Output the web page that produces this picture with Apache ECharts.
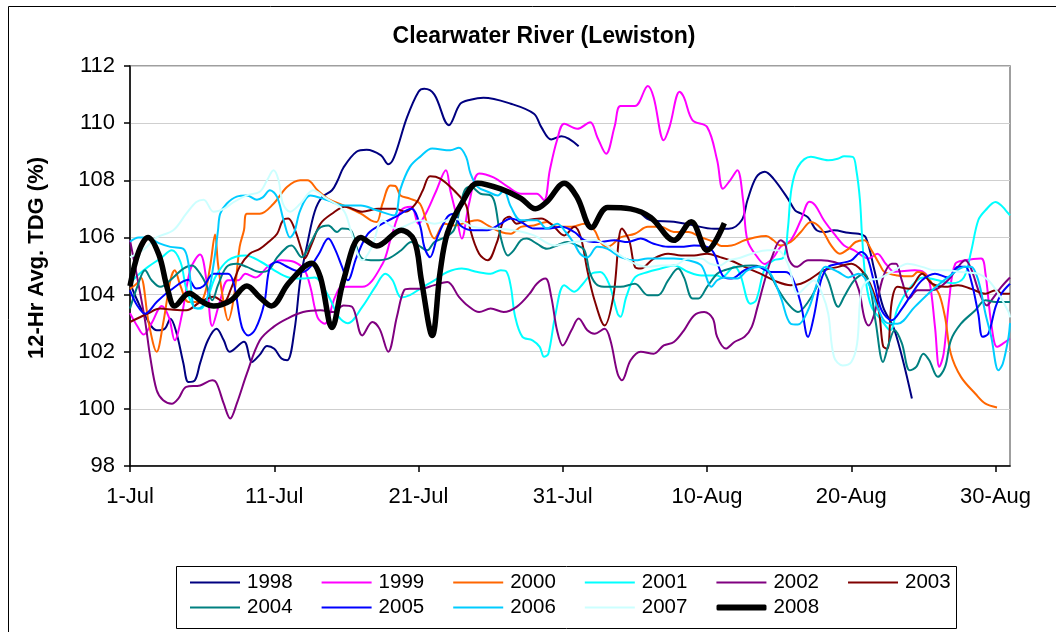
<!DOCTYPE html>
<html>
<head>
<meta charset="utf-8">
<script src="https://cdn.jsdelivr.net/npm/echarts@6/dist/echarts.min.js"></script>
<style>
html,body{margin:0;padding:0;background:#fff;}
#chart{width:1056px;height:632px;}
</style>
</head>
<body>
<div id="chart"></div>
<script>
// ---- Data (day offset from 1-Jul, 12-Hr Avg. TDG %) ----
const years = ['1998','1999','2000','2001','2002','2003','2004','2005','2006','2007','2008'];
const xTickDays = [0,10,20,30,40,50,60];
const xTickLabels = ['1-Jul','11-Jul','21-Jul','31-Jul','10-Aug','20-Aug','30-Aug'];
const yTicks = [98,100,102,104,106,108,110,112];

const s1998 = [[0,104.4],[0.5,103.8],[1.0,103.3],[1.85,102.75],[2.4,102.8],[2.8,103.15],[3.2,102.7],[3.7,101.6],[4.05,100.94],[4.5,101.0],[4.86,101.6],[5.4,102.4],[6.0,102.8],[6.5,102.4],[6.9,102.0],[7.9,102.35],[8.45,101.64],[9.0,101.9],[9.5,102.2],[10.0,102.1],[10.5,101.76],[10.9,101.7],[11.4,102.75],[11.8,104.5],[12.3,105.8],[12.8,106.9],[13.3,107.4],[14.0,107.65],[14.4,108.0],[14.8,108.45],[15.7,109.0],[16.4,109.07],[17.4,108.87],[17.9,108.56],[18.3,108.8],[19.2,110.2],[20.0,111.1],[20.4,111.2],[21.1,111.0],[22.1,109.93],[22.9,110.68],[23.6,110.82],[24.5,110.89],[26.4,110.68],[28.0,110.33],[28.5,109.87],[29.2,109.43],[29.9,109.54],[31.1,109.19],[33,null],[35.5,106.8],[36.1,106.6],[37.7,106.55],[38.8,106.45],[40.5,106.3],[41.5,106.3],[42.4,106.6],[42.8,107.3],[43.4,108.1],[44.0,108.3],[44.6,108.06],[45.6,107.36],[46.1,106.95],[46.5,106.84],[47.0,106.7],[47.6,106.25],[48.2,106.19],[48.8,106.25],[49.8,106.16],[50.5,106.13],[51.0,106.0],[51.6,104.85],[52.2,103.57],[53.0,102.75],[54.2,100.36]];

const s1999 = [[0,103.35],[0.5,102.9],[0.95,102.6],[1.5,103.0],[2.2,103.6],[2.7,103.2],[3.1,102.4],[3.6,103.3],[4.2,104.9],[4.86,105.4],[5.3,104.5],[5.7,102.9],[6.2,103.7],[6.8,104.5],[7.5,104.5],[8.0,104.73],[8.7,104.6],[9.6,105.0],[10.5,105.2],[11.4,105.14],[12.1,104.85],[12.5,104.27],[13.0,103.2],[13.5,102.98],[14.2,103.9],[14.7,104.27],[16.1,104.27],[17.5,105.07],[18.1,106.0],[18.8,106.95],[19.5,107.07],[20.0,106.48],[20.5,106.83],[21.2,107.6],[21.9,108.35],[22.2,107.65],[22.6,106.83],[23.0,105.96],[23.5,107.18],[24.2,108.24],[25.2,108.1],[26.2,107.77],[27.1,107.53],[28.2,107.53],[28.7,107.3],[29.1,108.35],[29.6,109.4],[30.1,109.98],[31.0,109.8],[31.9,110.03],[32.4,109.5],[33.0,108.93],[33.6,109.9],[34.0,110.6],[35.0,110.6],[35.9,111.3],[36.3,110.9],[37.0,109.4],[37.4,109.87],[38.1,111.1],[38.4,110.9],[39.0,110.1],[40.0,109.87],[40.7,108.7],[41.1,107.7],[41.6,108.0],[42.1,108.35],[42.5,107.3],[42.8,105.9],[43.5,105.3],[44.0,105.07],[44.6,105.3],[45.1,105.67],[45.8,105.9],[46.5,106.6],[47.1,107.25],[47.5,107.12],[48.1,106.6],[48.8,106.13],[49.5,105.72],[50.2,105.55],[51.2,105.26],[51.8,105.43],[52.4,105.07],[53.0,104.8],[54.4,104.85],[55.0,104.79],[55.4,104.5],[55.8,102.87],[56.1,101.47],[56.4,101.93],[56.8,103.9],[57.2,105.07],[57.9,105.2],[59.0,105.26],[59.3,104.73],[59.7,102.98],[60.1,102.17],[60.5,102.28],[61.0,102.46]];

const s2000 = [[0,104.2],[0.5,104.4],[0.75,104.6],[1.3,103.0],[1.85,102.0],[2.3,103.0],[2.8,104.5],[3.1,104.85],[3.5,104.3],[4.05,103.74],[4.6,103.74],[5.1,103.9],[5.55,104.97],[5.9,106.1],[6.1,105.07],[6.5,103.7],[6.8,103.1],[7.2,103.9],[7.6,105.67],[7.9,106.25],[8.1,106.83],[9.0,106.83],[9.95,107.18],[10.9,107.77],[11.8,108.0],[12.3,108.0],[13.0,107.65],[13.7,107.36],[14.8,107.12],[16.0,106.83],[16.7,106.6],[17.1,106.54],[17.5,107.18],[18.05,107.82],[18.4,107.8],[18.75,107.47],[19.4,107.36],[20.1,107.18],[20.6,106.48],[21.1,105.96],[21.8,106.48],[22.5,106.42],[23.4,106.54],[24.1,106.6],[24.8,106.42],[25.7,106.19],[26.4,106.13],[27.1,106.37],[28.0,106.42],[28.9,106.54],[29.6,106.37],[30.6,106.37],[31.5,106.48],[32.2,106.25],[32.6,105.84],[33.1,105.67],[33.5,105.78],[34.0,106.0],[35.0,106.13],[35.9,106.37],[36.8,106.37],[37.7,106.19],[38.7,106.19],[39.6,106.0],[40.5,105.84],[41.0,105.7],[41.7,105.72],[42.6,105.9],[43.3,106.0],[44.1,106.05],[44.6,105.9],[45.1,105.72],[45.8,105.84],[46.5,106.19],[47.2,106.54],[47.9,106.31],[48.6,105.72],[49.2,105.43],[49.8,105.6],[50.3,105.84],[50.9,105.9],[51.4,105.55],[52.0,105.02],[52.3,104.79],[53.2,104.67],[54.2,104.64],[54.6,104.79],[55.1,104.73],[55.6,104.38],[56.1,104.0],[56.5,103.2],[56.9,101.93],[57.6,101.12],[58.6,100.53],[59.3,100.18],[60.1,100.05]];

const s2001 = [[0,104.4],[0.6,104.7],[1.25,104.97],[2.1,105.26],[2.9,105.55],[3.5,105.14],[3.9,104.2],[4.4,103.6],[4.9,103.5],[5.4,103.9],[5.9,104.6],[6.8,105.2],[8.0,105.37],[9.1,105.14],[10.0,104.85],[11.0,104.6],[11.9,104.56],[12.8,104.6],[13.7,104.0],[14.5,103.2],[15.1,103.0],[16.1,103.57],[17.0,104.27],[17.7,104.73],[18.2,104.5],[18.8,103.9],[19.4,103.98],[20.1,104.2],[21.1,104.5],[22.0,104.79],[23.0,104.91],[24.1,104.79],[25.0,104.73],[25.7,104.85],[26.1,104.8],[26.4,104.27],[26.7,103.22],[27.2,102.52],[27.9,102.4],[28.4,102.17],[28.7,101.82],[29.0,101.93],[29.5,103.33],[30.1,104.33],[30.8,104.1],[31.4,104.38],[32.0,104.73],[32.6,104.79],[33.2,104.38],[33.8,103.33],[34.0,103.22],[34.4,103.92],[35.0,104.6],[35.9,104.79],[36.8,104.91],[37.7,105.02],[38.7,104.79],[39.6,104.67],[40.7,104.67],[41.0,104.6],[41.9,104.97],[42.3,104.7],[43.0,103.68],[43.4,103.8],[44.0,104.91],[44.6,105.2],[45.3,105.3],[45.6,106.3],[45.85,107.7],[46.3,108.47],[47.2,108.82],[48.4,108.7],[49.1,108.76],[49.5,108.84],[50.1,108.82],[50.35,108.35],[50.6,107.3],[50.75,106.0],[51.0,104.5],[51.4,103.57],[52.1,103.1],[52.7,102.75],[53.2,103.51],[54.0,104.2],[55.0,104.6],[56.0,104.5],[57.0,104.4],[57.8,104.6],[58.3,105.5],[58.8,106.6],[59.3,106.95],[60.0,107.24],[60.4,107.12],[60.7,106.95],[61.0,106.77]];

const s2002 = [[0,105.9],[0.5,104.6],[1.04,103.1],[1.4,101.82],[1.85,100.65],[2.3,100.3],[2.9,100.18],[3.35,100.36],[3.9,100.77],[4.86,100.82],[5.7,101.0],[6.0,100.9],[6.5,100.18],[6.95,99.66],[7.4,100.18],[8.1,101.23],[9.0,102.4],[9.95,102.87],[10.9,103.16],[12.0,103.39],[13.2,103.45],[14.1,103.39],[14.8,103.62],[15.4,103.57],[16.1,102.57],[16.8,103.04],[17.3,102.8],[17.9,102.0],[18.5,103.22],[19.0,104.15],[19.4,104.2],[20.1,104.2],[21.1,104.33],[22.0,104.44],[22.8,103.92],[23.4,103.62],[24.2,103.39],[25.0,103.51],[25.9,103.39],[26.8,103.57],[27.7,104.03],[28.2,104.38],[28.8,104.56],[29.2,103.92],[29.6,102.75],[30.0,102.22],[30.6,102.75],[31.1,103.16],[31.7,102.75],[32.2,102.63],[32.9,102.8],[33.3,102.4],[33.8,101.23],[34.1,101.0],[34.7,101.7],[35.4,102.0],[36.3,101.93],[37.0,102.22],[37.7,102.34],[38.4,102.75],[39.1,103.27],[39.8,103.39],[40.4,103.16],[40.7,102.52],[41.3,102.11],[41.9,102.34],[42.6,102.52],[43.1,102.87],[43.5,103.57],[44.0,104.5],[44.5,105.31],[45.1,105.9],[45.4,105.78],[45.7,105.2],[46.2,104.97],[47.0,105.2],[47.9,105.2],[48.8,105.14],[49.8,104.91],[50.5,104.2],[50.9,103.2],[51.2,102.92],[51.6,103.33],[52.2,104.6],[52.8,105.08],[53.1,105.08],[53.5,104.5],[54.0,103.86],[54.6,104.15],[55.6,104.15],[56.7,104.5],[57.4,104.97],[57.9,105.2],[58.3,104.91],[58.9,104.03],[59.4,103.62],[59.8,103.86],[60.4,104.27],[61.0,104.6]];

const s2003 = [[0,103.04],[1.2,103.33],[2.1,103.51],[3.0,103.47],[3.9,103.45],[4.86,103.74],[5.8,103.92],[6.5,103.74],[7.0,104.2],[7.6,104.97],[8.3,105.43],[9.0,105.6],[9.6,105.84],[10.2,106.13],[10.6,106.6],[10.97,106.66],[11.4,106.31],[11.9,105.55],[12.1,105.26],[12.6,105.78],[13.2,106.48],[14.0,106.83],[14.9,107.07],[16.1,106.9],[17.2,107.0],[18.4,107.0],[19.1,106.9],[19.8,107.18],[20.3,107.65],[20.8,108.14],[21.5,108.06],[22.45,107.65],[23.3,107.12],[23.6,106.25],[24.2,105.43],[24.8,105.2],[25.4,105.78],[25.9,106.6],[26.3,106.72],[26.8,106.48],[27.5,106.6],[28.5,106.66],[29.3,106.42],[30.1,106.07],[30.8,106.37],[31.25,106.0],[31.7,104.85],[32.2,103.8],[32.9,102.92],[33.5,103.92],[34.1,106.31],[34.6,105.9],[35.0,104.97],[35.4,104.91],[36.3,105.26],[37.3,105.43],[38.2,105.37],[39.1,105.37],[40.0,105.43],[40.9,105.31],[41.6,105.2],[42.6,104.97],[43.7,104.73],[44.9,104.44],[45.8,104.33],[46.5,104.38],[47.2,104.56],[48.1,104.85],[49.1,104.97],[50.0,105.08],[50.7,104.85],[51.3,104.38],[51.9,103.45],[52.2,102.2],[52.5,102.1],[52.8,103.74],[53.2,104.27],[54.0,104.2],[54.9,104.73],[55.6,104.38],[56.5,104.27],[57.4,104.33],[58.3,104.2],[59.3,104.03],[60.0,104.15],[60.5,104.03],[61.0,104.03]];

const s2004 = [[0,103.51],[0.5,104.27],[1.04,104.85],[1.5,104.5],[2.1,104.27],[3.0,104.6],[3.7,104.91],[4.3,105.02],[4.86,104.73],[5.3,104.33],[5.7,103.8],[6.1,104.33],[6.7,104.97],[7.4,105.08],[8.1,104.97],[9.0,104.79],[9.6,104.85],[10.2,105.3],[10.9,105.67],[11.2,105.72],[11.9,105.31],[12.5,105.78],[13.1,106.31],[13.75,106.42],[14.35,106.19],[14.7,106.31],[15.3,106.25],[15.7,105.67],[16.1,105.26],[17.0,105.2],[17.9,105.26],[18.8,105.55],[19.5,105.84],[20.0,105.72],[20.6,105.55],[21.1,105.84],[21.8,106.0],[22.45,106.25],[22.9,107.07],[23.2,107.65],[23.6,107.77],[24.3,107.53],[25.0,107.47],[25.3,107.18],[25.7,106.0],[26.2,105.37],[26.6,105.55],[27.1,105.9],[27.5,105.96],[28.2,105.78],[28.9,105.6],[29.6,105.72],[30.3,105.84],[31.0,105.72],[31.5,105.55],[31.9,104.73],[32.4,104.33],[33.1,104.27],[34.0,104.27],[35.0,104.38],[35.9,103.98],[36.6,103.98],[37.3,104.5],[38.0,104.91],[38.4,104.6],[39.0,103.86],[39.4,103.86],[40.0,104.27],[40.7,104.73],[41.2,104.85],[42.1,104.97],[43.1,105.02],[43.75,104.97],[44.2,104.85],[44.9,104.2],[45.6,103.68],[46.3,103.39],[47.0,103.74],[47.6,104.27],[48.0,104.85],[48.4,104.5],[49.1,103.57],[49.5,103.92],[50.2,104.5],[50.9,104.73],[51.3,104.27],[51.7,103.0],[52.2,101.64],[52.6,102.28],[53.0,102.75],[53.5,102.3],[54.05,101.35],[54.5,101.47],[55.0,101.93],[55.4,101.7],[56.0,101.12],[56.5,101.47],[56.9,102.4],[57.6,102.98],[58.6,103.45],[59.3,103.8],[60.0,103.74],[61.0,103.74]];

const s2005 = [[0,104.15],[0.5,103.62],[1.04,103.33],[1.85,103.74],[2.8,104.15],[4.05,104.52],[4.6,104.21],[5.1,104.3],[5.8,104.73],[6.8,104.73],[7.2,104.38],[7.75,102.87],[8.2,102.57],[8.7,102.8],[9.3,103.68],[9.7,104.97],[10.2,105.14],[10.8,105.0],[11.4,104.85],[12.0,104.79],[12.5,104.97],[13.1,105.43],[13.75,105.96],[14.2,105.6],[14.7,104.97],[15.1,104.5],[15.7,105.3],[16.5,106.13],[17.5,106.48],[18.4,106.72],[19.5,107.0],[20.1,106.42],[20.4,105.67],[20.8,105.31],[21.3,106.0],[22.0,106.72],[22.45,106.83],[22.9,106.42],[23.8,106.25],[24.75,106.25],[25.7,106.48],[26.4,106.66],[27.1,106.54],[28.0,106.31],[28.9,106.31],[29.9,106.37],[30.8,106.19],[31.5,105.9],[32.4,105.84],[33.6,105.9],[34.5,105.84],[35.4,105.96],[36.3,105.78],[37.3,105.67],[38.2,105.67],[39.1,105.72],[40.0,105.67],[40.5,105.43],[40.9,104.85],[41.2,104.6],[41.7,104.56],[42.6,104.85],[43.5,104.97],[44.4,104.79],[45.4,104.79],[45.9,104.6],[46.5,103.68],[47.0,102.52],[47.4,103.22],[47.9,104.5],[48.4,104.97],[49.1,105.08],[50.0,105.2],[50.7,105.49],[51.1,105.31],[51.6,104.38],[52.1,103.45],[52.8,103.1],[53.5,103.5],[54.2,104.03],[54.9,104.5],[55.8,104.73],[56.7,104.6],[57.4,104.97],[57.9,104.97],[58.3,104.5],[58.8,103.33],[59.1,102.52],[59.5,102.63],[60.0,103.57],[60.4,104.03],[61.0,104.38]];

const s2006 = [[0,105.85],[0.6,106.0],[1.2,106.0],[2.0,105.8],[2.8,105.67],[3.7,105.6],[4.05,105.08],[4.4,103.57],[4.7,103.51],[5.3,103.8],[5.8,105.08],[6.1,106.25],[6.25,106.83],[6.7,107.18],[7.4,107.43],[8.1,107.47],[8.8,107.32],[9.2,107.4],[9.7,107.65],[10.2,107.41],[10.65,106.6],[11.1,106.0],[11.4,106.2],[11.8,106.95],[12.5,107.47],[13.7,107.3],[14.8,107.12],[16.0,107.12],[17.1,106.95],[18.3,106.77],[18.75,107.7],[19.4,108.47],[20.1,108.82],[20.95,109.11],[22.2,109.05],[22.8,109.14],[23.3,108.82],[23.6,108.24],[24.1,107.77],[24.8,107.6],[25.5,107.47],[25.9,107.65],[26.4,107.07],[27.1,106.6],[28.2,106.6],[28.9,106.31],[29.6,106.48],[30.2,106.19],[30.8,105.78],[31.2,105.43],[31.7,105.3],[32.4,105.67],[33.1,105.6],[34.0,105.31],[35.0,105.2],[35.9,105.26],[36.8,105.26],[37.7,105.26],[38.7,105.2],[39.6,105.02],[40.3,104.27],[40.7,104.5],[41.2,104.6],[42.1,104.56],[42.8,104.85],[43.7,104.97],[44.4,104.73],[45.1,103.92],[45.8,102.98],[46.3,102.95],[47.0,103.45],[47.7,104.5],[48.2,104.97],[49.1,104.79],[49.8,104.6],[50.5,104.73],[51.2,104.38],[51.8,103.57],[52.5,103.0],[53.2,102.98],[54.4,103.57],[55.6,104.15],[56.7,104.6],[57.9,104.97],[58.3,104.97],[58.8,104.5],[59.3,103.33],[59.7,102.52],[60.2,101.35],[60.5,101.58],[60.9,102.52],[61.0,103.0]];

const s2007 = [[0,105.3],[1.0,105.6],[1.85,106.0],[3.0,106.25],[3.9,106.83],[4.6,107.24],[5.1,107.32],[5.8,106.9],[6.5,107.0],[7.2,107.24],[8.1,107.47],[9.0,107.6],[9.5,108.0],[9.95,108.35],[10.3,108.0],[10.6,107.18],[11.1,106.9],[11.8,107.18],[12.7,107.65],[13.5,107.4],[14.8,106.95],[15.3,106.25],[16.1,105.2],[16.8,105.7],[17.5,106.6],[18.5,106.3],[19.5,106.5],[20.1,106.6],[21.1,106.48],[22.45,106.66],[23.8,106.37],[25.2,106.31],[26.6,106.25],[28.0,106.07],[29.4,105.72],[30.8,105.84],[32.2,105.9],[33.1,105.7],[34.0,105.37],[35.0,105.08],[35.9,104.97],[36.8,105.02],[37.7,105.02],[38.7,105.26],[39.6,105.26],[40.2,105.08],[40.9,105.02],[41.5,105.2],[42.1,105.26],[43.1,105.43],[44.2,105.55],[44.9,105.55],[45.6,105.08],[46.3,104.03],[46.9,104.3],[47.4,104.5],[48.0,104.0],[48.4,103.33],[48.8,101.82],[49.4,101.52],[50.0,101.64],[50.4,102.28],[50.7,104.15],[51.2,104.5],[51.9,104.56],[53.0,104.85],[53.9,105.08],[54.9,104.97],[55.8,104.85],[56.7,104.85],[57.6,104.79],[58.8,104.73],[59.5,104.5],[60.2,104.03],[60.9,103.39],[61.0,103.2]];

const s2008 = [[0,104.3],[0.6,105.5],[1.25,106.0],[2,105.4],[2.6,104.2],[3.1,103.6],[4.1,104.05],[5,103.75],[5.8,103.6],[7,103.8],[8.1,104.3],[9,103.9],[9.8,103.6],[11,104.4],[12.6,105.1],[13.2,104.6],[14.0,102.85],[14.8,104.5],[16.0,106.0],[17.1,105.7],[18.8,106.25],[19.7,105.9],[20.2,104.5],[20.95,102.57],[21.5,104.8],[22.0,106.15],[23,107.2],[24.1,107.9],[25.7,107.7],[27.1,107.37],[28.1,107.0],[28.9,107.25],[30.1,107.9],[31.0,107.4],[32.0,106.35],[33.1,107.05],[34.7,107.0],[36.1,106.7],[37.7,105.9],[38.9,106.55],[40.0,105.55],[41.2,106.5]];

const seriesData = [s1998,s1999,s2000,s2001,s2002,s2003,s2004,s2005,s2006,s2007,s2008];
const colors = ['#000080','#FF00FF','#FF6600','#00FFFF','#800080','#800000','#008080','#0000FF','#00CCFF','#CCFFFF','#000000'];

const FONT = 'Liberation Sans, Arial, sans-serif';
const chart = echarts.init(document.getElementById('chart'), null, {renderer:'canvas'});

const series = years.map((y,i) => ({
  name: y,
  type: 'line',
  data: seriesData[i],
  smooth: 0.35,
  symbol: 'none',
  showSymbol: false,
  connectNulls: false,
  lineStyle: {color: colors[i], width: y === '2008' ? 5.5 : 2},
  itemStyle: {color: colors[i]},
  z: 2 + i,
  silent: true
}));

const legendCommon = {
  orient: 'horizontal',
  itemWidth: 50,
  itemHeight: 2,
  itemGap: 29,
  icon: 'rect',
  selectedMode: false,
  textStyle: {fontSize: 20.5, lineHeight: 20, fontFamily: FONT, color: '#000', padding: [0,0,0,2]}
};

chart.setOption({
  animation: false,
  backgroundColor: '#fff',
  color: colors,
  title: {
    text: 'Clearwater River (Lewiston)',
    left: 539, top: 20, textAlign: 'center',
    textStyle: {fontSize: 23, fontWeight: 'bold', fontFamily: FONT, color: '#000'}
  },
  grid: {left: 130, right: 46, top: 66, bottom: 166, show: true, borderColor: '#808080', borderWidth: 1.5, backgroundColor: 'transparent'},
  xAxis: {
    type: 'value', min: 0, max: 61, interval: 10,
    axisLine: {show: true, onZero: false, lineStyle: {color: '#000', width: 1.5}},
    axisTick: {show: true, length: 6, lineStyle: {color: '#000', width: 1.5}, customValues: xTickDays},
    axisLabel: {
      customValues: xTickDays,
      margin: 20, fontSize: 22, fontFamily: FONT, color: '#000',
      formatter: v => { const i = xTickDays.indexOf(Math.round(v)); return (i >= 0 && Math.abs(v - xTickDays[i]) < 1e-6) ? xTickLabels[i] : ''; }
    },
    splitLine: {show: false}
  },
  yAxis: {
    type: 'value', min: yTicks[0], max: yTicks[yTicks.length-1], interval: 2,
    axisLine: {show: true, lineStyle: {color: '#000', width: 1.5}},
    axisTick: {show: true, length: 6, lineStyle: {color: '#000', width: 1.5}},
    axisLabel: {margin: 15, fontSize: 22, fontFamily: FONT, color: '#000'},
    splitLine: {show: true, lineStyle: {color: '#CFCFCF', width: 1.2}}
  },
  legend: [
    Object.assign({}, legendCommon, {left: 185, top: 567, data: years.slice(0,6)}),
    Object.assign({}, legendCommon, {left: 185, top: 592, data: years.slice(6,10)}),
    Object.assign({}, legendCommon, {left: 711.5, top: 592, itemHeight: 6, icon: 'roundRect', data: years.slice(10)})
  ],
  graphic: [
    {type: 'rect', shape: {x: 8.5, y: 6.5, width: 1100, height: 700}, style: {fill: 'none', stroke: '#000', lineWidth: 1}, z: -10, silent: true},
    {type: 'rect', shape: {x: 176.5, y: 566.5, width: 780, height: 62}, style: {fill: 'none', stroke: '#000', lineWidth: 1}, silent: true},
    {type: 'text', x: 37, y: 258, rotation: Math.PI/2, style: {text: '12-Hr Avg. TDG (%)', fontSize: 22, fontWeight: 'bold', fontFamily: FONT, fill: '#000', textAlign: 'center', textVerticalAlign: 'middle'}, silent: true}
  ],
  series: series
});
</script>
</body>
</html>
